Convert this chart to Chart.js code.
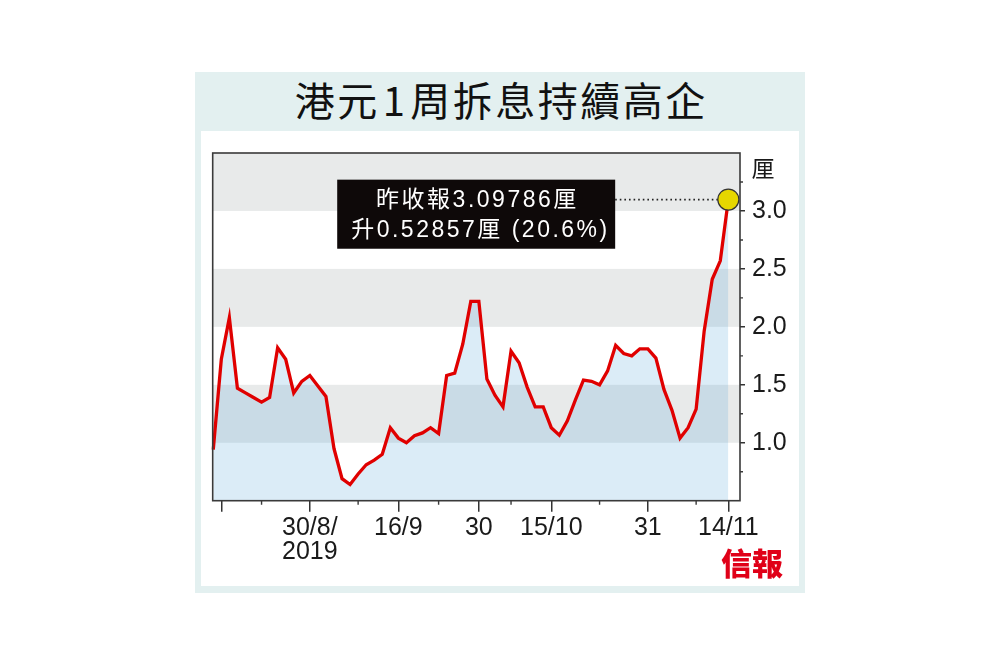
<!DOCTYPE html>
<html><head><meta charset="utf-8">
<script src="https://cdn.jsdelivr.net/npm/chart.js@4"></script>
<style>
html,body{margin:0;padding:0;background:#fff;width:1000px;height:667px;overflow:hidden;}
#outer{position:absolute;left:195px;top:72px;width:610px;height:521px;background:#e3f0f0;}
#title{position:absolute;left:195px;top:70px;width:610px;height:59px;text-align:center;font-family:"Noto Sans CJK TC";font-weight:400;font-size:40px;line-height:59px;letter-spacing:2.5px;padding-left:2.5px;box-sizing:border-box;color:#111;}
#title span{margin:0 3px;}
#panel{position:absolute;left:201px;top:131px;width:598px;height:455px;background:#fff;}
#logo{position:absolute;left:721px;top:542px;font-family:"Noto Sans CJK TC";font-weight:900;font-size:31px;color:#e00018;line-height:40px;}
</style></head>
<body>
<div id="outer"></div>
<div id="title">港元<span>1</span>周拆息持續高企</div>
<div id="panel"><canvas id="c" width="598" height="455"></canvas></div>
<div id="logo">信報</div>
<script>
// ---- data ----
const dates = ['14/8','15/8','16/8','19/8','20/8','21/8','22/8','23/8','26/8','27/8','28/8','29/8','30/8',
 '2/9','3/9','4/9','5/9','6/9','9/9','10/9','11/9','12/9','13/9','16/9','17/9','18/9','19/9','20/9','23/9','24/9','25/9','26/9','27/9','30/9',
 '2/10','3/10','4/10','8/10','9/10','10/10','11/10','14/10','15/10','16/10','17/10','18/10','21/10','22/10','23/10','24/10','25/10','28/10','29/10','30/10','31/10',
 '1/11','4/11','5/11','6/11','7/11','8/11','11/11','12/11','13/11','14/11'];
const rate = [0.94,1.72,2.08,1.47,1.43,1.39,1.35,1.39,1.82,1.72,1.43,1.53,1.58,1.49,1.40,0.95,0.69,0.64,0.73,0.81,0.85,0.90,1.13,
 1.04,1.00,1.06,1.085,1.13,1.08,1.58,1.60,1.85,2.22,2.22,1.55,1.41,1.31,1.79,1.69,1.48,1.31,1.31,1.13,1.065,1.19,1.37,1.54,1.53,1.50,
 1.62,1.84,1.77,1.75,1.81,1.81,1.73,1.46,1.28,1.04,1.13,1.29,1.965,2.41,2.57,3.09786];
const majorTickIdx = [1,12,23,33,42,54,64];
const tickLabels = ['',['30/8/','2019'],'16/9','30','15/10','31','14/11'];
const minorTickIdx = [6,18,28,37,48,60];
const yTicks = [1.0,1.5,2.0,2.5,3.0];
const yMinor = [0.75,1.25,1.75,2.25,2.75,3.25];
const bands = [[1.0,1.5],[2.0,2.5],[3.0,3.5]];
const unitLabel = '厘';
const noteLines = ['昨收報3.09786厘','升0.52857厘 (20.6%)'];
// annotation box placement (in scale units)
const note = {x0:15.4, x1:49.94, yTop:3.27, yBot:2.674};

const last = rate.length - 1;
const FONT = '"Liberation Sans", "Noto Sans CJK TC", sans-serif';

const decor = {
  id:'decor',
  beforeDatasetsDraw(chart){
    const {ctx, chartArea:a, scales:{x,y}} = chart;
    ctx.save();
    ctx.fillStyle = '#e8eaea';
    bands.forEach(([lo,hi])=>{
      const t = Math.max(y.getPixelForValue(hi), a.top);
      const b = Math.min(y.getPixelForValue(lo), a.bottom);
      ctx.fillRect(a.left, t, a.right - a.left, b - t);
    });
    const py = y.getPixelForValue(rate[last]);
    ctx.strokeStyle = '#222'; ctx.lineWidth = 1.6; ctx.setLineDash([1.6,3]);
    ctx.beginPath(); ctx.moveTo(x.getPixelForValue(note.x1), py); ctx.lineTo(x.getPixelForValue(last), py); ctx.stroke();
    ctx.restore();
  },
  afterDatasetsDraw(chart){
    const {ctx, scales:{x,y}} = chart;
    const l = x.getPixelForValue(note.x0), r = x.getPixelForValue(note.x1);
    const t = y.getPixelForValue(note.yTop), b = y.getPixelForValue(note.yBot);
    ctx.save();
    ctx.fillStyle = '#0e0909';
    ctx.fillRect(l, t, r - l, b - t);
    ctx.fillStyle = '#fff';
    ctx.font = '23px ' + FONT;
    ctx.letterSpacing = '2.5px';
    ctx.textAlign = 'center'; ctx.textBaseline = 'middle';
    const cx = (l + r) / 2 + 1.25;
    ctx.fillText(noteLines[0], cx, t + (b - t) * 0.30);
    ctx.fillText(noteLines[1], cx + 3, t + (b - t) * 0.745);
    ctx.restore();
  },
  afterDraw(chart){
    const {ctx, chartArea:a, scales:{x,y}} = chart;
    ctx.save();
    ctx.strokeStyle = '#3a3a3a'; ctx.lineWidth = 1.6;
    ctx.strokeRect(a.left, a.top, a.right - a.left, a.bottom - a.top);
    ctx.lineWidth = 1.4;
    ctx.beginPath();
    minorTickIdx.forEach(i=>{ const px = x.getPixelForValue(i); ctx.moveTo(px, a.bottom); ctx.lineTo(px, a.bottom + 4); });
    yMinor.forEach(v=>{ const py = y.getPixelForValue(v); ctx.moveTo(a.right, py); ctx.lineTo(a.right + 3, py); });
    ctx.stroke();
    ctx.fillStyle = '#1a1a1a';
    ctx.font = '23px "Noto Sans CJK TC"';
    ctx.textAlign = 'center'; ctx.textBaseline = 'middle';
    ctx.fillText(unitLabel, a.right + 23, a.top + 15);
    ctx.restore();
  }
};

new Chart(document.getElementById('c'), {
  type:'line',
  data:{
    labels: dates,
    datasets:[{
      data: rate.map((v,i)=>({x:i, y:v})),
      borderColor:'#e00000',
      borderWidth:3.3,
      tension:0,
      fill:'start',
      backgroundColor:'rgba(90,170,220,0.22)',
      pointRadius: c => c.dataIndex === last ? 10.5 : 0,
      pointHoverRadius: c => c.dataIndex === last ? 10.5 : 0,
      pointBackgroundColor:'#e6d700',
      pointBorderColor:'#333',
      pointBorderWidth:1.2,
      clip:false
    }]
  },
  options:{
    responsive:false,
    animation:false,
    events:[],
    layout:{padding:{left:11.7, top:18, right:0, bottom:0}},
    plugins:{legend:{display:false}, tooltip:{enabled:false}},
    scales:{
      x:{
        type:'linear', min:-0.07, max:65.45,
        afterBuildTicks: s => { s.ticks = majorTickIdx.map(v=>({value:v})); },
        afterFit: s => { s.height = 85.3; },
        grid:{drawOnChartArea:false, color:'#333', lineWidth:1.5, tickLength:11},
        border:{display:false},
        ticks:{
          autoSkip:false, maxRotation:0, padding:4.5, color:'#1a1a1a',
          font:{family:FONT, size:25, lineHeight:0.95},
          callback: v => { const k = majorTickIdx.indexOf(v); return k >= 0 ? tickLabels[k] : ''; }
        }
      },
      y:{
        position:'right', min:0.5, max:3.5,
        afterBuildTicks: s => { s.ticks = yTicks.map(v=>({value:v})); },
        afterFit: s => { s.width = 59; },
        grid:{drawOnChartArea:false, color:'#333', lineWidth:1.5, tickLength:5},
        border:{display:false},
        ticks:{
          padding:7, color:'#1a1a1a',
          font:{family:FONT, size:25},
          callback: v => v.toFixed(1)
        }
      }
    }
  },
  plugins:[decor]
});
</script>
</body></html>
